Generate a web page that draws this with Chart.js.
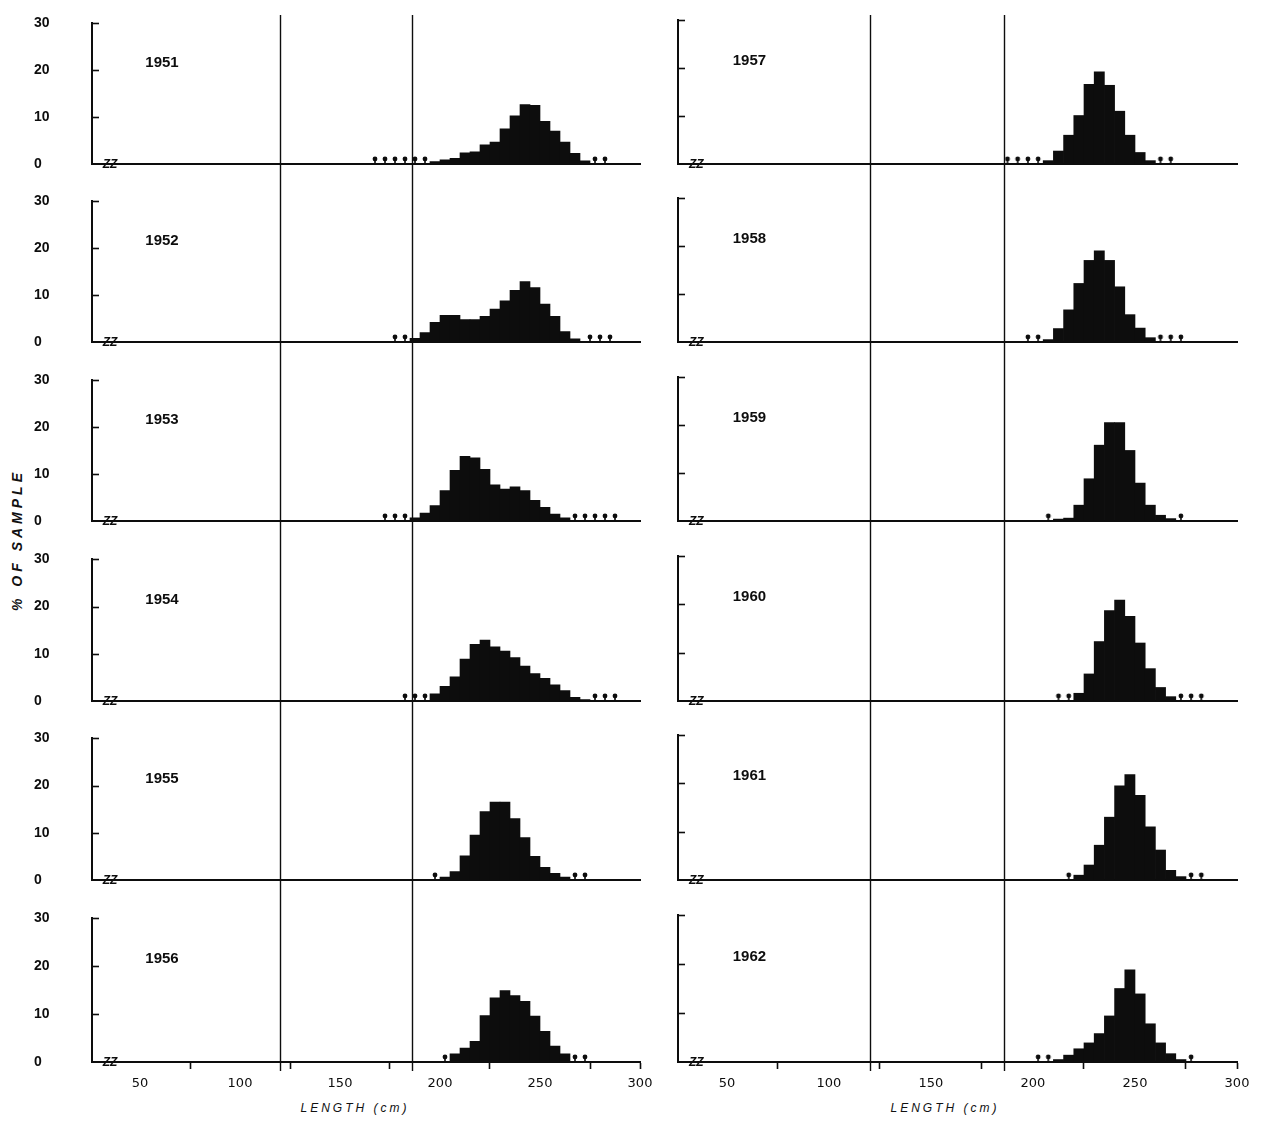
<!DOCTYPE html>
<html>
<head>
<meta charset="utf-8">
<script src="https://cdn.jsdelivr.net/npm/chart.js@4.4.1/dist/chart.umd.min.js"></script>
<style>
html,body{margin:0;padding:0;background:#fff;}
#wrap{position:relative;width:1265px;height:1123px;overflow:hidden;background:#fff;}
#wrap canvas{position:absolute;}
.ytitle{position:absolute;left:17px;top:540px;transform:translate(-50%,-50%) rotate(-90deg);font:italic bold 14px "Liberation Sans",Arial,sans-serif;letter-spacing:4px;white-space:nowrap;color:#111;}
.xtitle{position:absolute;top:1101px;transform:translateX(-50%);font:italic 12px "Liberation Sans",Arial,sans-serif;letter-spacing:3px;white-space:nowrap;color:#111;}
</style>
</head>
<body>
<div id="wrap">
  <div class="ytitle">% OF SAMPLE</div>
  <div class="xtitle" style="left:355px">LENGTH (cm)</div>
  <div class="xtitle" style="left:945px">LENGTH (cm)</div>
</div>
<script>
// ---------------- data ----------------
const years = [1951, 1952, 1953, 1954, 1955, 1956, 1957, 1958, 1959, 1960, 1961, 1962];
const binWidth = 5; // cm
const firstBin = [195, 185, 185, 195, 200, 205, 205, 205, 210, 220, 220, 210];

const pct1951 = [0.5, 0.9, 1.2, 2.4, 2.6, 4.1, 4.7, 7.5, 10.3, 12.7, 12.5, 9.1, 7.0, 4.7, 2.3, 0.7];
const pct1952 = [0.8, 2.0, 4.2, 5.7, 5.7, 4.8, 4.8, 5.5, 7.0, 8.8, 11.0, 12.9, 11.6, 8.1, 5.5, 2.2, 0.7];
const pct1953 = [0.7, 1.7, 3.3, 6.5, 10.8, 13.8, 13.5, 11.0, 7.7, 6.8, 7.3, 6.5, 4.4, 2.9, 1.5, 0.7];
const pct1954 = [1.5, 3.1, 5.1, 8.9, 12.0, 12.9, 11.5, 10.6, 9.2, 7.4, 5.8, 4.8, 3.4, 2.2, 0.8, 0.3];
const pct1955 = [0.6, 1.8, 5.1, 9.5, 14.5, 16.5, 16.5, 13.0, 9.0, 5.0, 2.7, 1.4, 0.6];
const pct1956 = [1.7, 2.9, 4.3, 9.7, 13.4, 14.9, 13.9, 12.7, 9.6, 6.4, 3.3, 1.7];
const pct1957 = [0.7, 2.7, 6.0, 10.1, 16.6, 19.2, 16.4, 11.0, 6.0, 2.4, 0.7];
const pct1958 = [0.5, 2.8, 6.7, 12.2, 17.0, 19.0, 17.0, 11.5, 5.7, 2.9, 0.9];
const pct1959 = [0.4, 0.6, 3.3, 8.8, 15.8, 20.5, 20.5, 14.7, 7.9, 3.3, 1.2, 0.5];
const pct1960 = [1.6, 5.6, 12.3, 18.7, 20.9, 17.5, 12.0, 6.7, 2.8, 0.9];
const pct1961 = [1.0, 3.1, 7.2, 13.0, 19.5, 21.8, 17.5, 11.0, 6.2, 2.0, 0.7];
const pct1962 = [0.5, 1.4, 2.7, 3.9, 5.8, 9.4, 15.0, 18.8, 13.9, 7.8, 3.9, 1.7, 0.5];

// lengths (cm) of the isolated trace records marked on the baseline
const trace1951 = [167.5, 172.5, 177.5, 182.5, 187.5, 192.5, 277.5, 282.5];
const trace1952 = [177.5, 182.5, 275, 280, 285];
const trace1953 = [172.5, 177.5, 182.5, 267.5, 272.5, 277.5, 282.5, 287.5];
const trace1954 = [182.5, 187.5, 192.5, 277.5, 282.5, 287.5];
const trace1955 = [197.5, 267.5, 272.5];
const trace1956 = [202.5, 267.5, 272.5];
const trace1957 = [187.5, 192.5, 197.5, 202.5, 262.5, 267.5];
const trace1958 = [197.5, 202.5, 262.5, 267.5, 272.5];
const trace1959 = [207.5, 272.5];
const trace1960 = [212.5, 217.5, 272.5, 277.5, 282.5];
const trace1961 = [217.5, 277.5, 282.5];
const trace1962 = [202.5, 207.5, 277.5];

const xTickValues = [50, 75, 100, 125, 150, 175, 200, 225, 250, 275, 300];
const yTickValues = [0, 10, 20, 30];
const referenceLengths = [120, 186];   // vertical lines, cm
const xRange = [26, 300];
const yRange = [0, 30];
const breakAt = 35;                     // axis break "ZZ"
const yearLabelPos = [61, 21.5];

const pctByYear = [pct1951, pct1952, pct1953, pct1954, pct1955, pct1956, pct1957, pct1958, pct1959, pct1960, pct1961, pct1962];
const traceByYear = [trace1951, trace1952, trace1953, trace1954, trace1955, trace1956, trace1957, trace1958, trace1959, trace1960, trace1961, trace1962];

// ---------------- layout ----------------
const rowTop = [18, 196, 375, 554, 733, 913];     // pixel of 30 %
const rowBase = [164, 342, 521, 701, 880, 1062];  // pixel of 0 %
const cols = [
  {left: 0,   width: 660, plotLeft: 92,  plotRight: 640, labels: true},
  {left: 640, width: 625, plotLeft: 678, plotRight: 1237, labels: false}
];
const INK = '#0d0d0d';

// trace marker glyph (dot on a short stem, sitting on the baseline)
function makeMarker() {
  const c = document.createElement('canvas');
  c.width = 8; c.height = 16;
  const g = c.getContext('2d');
  g.fillStyle = INK;
  g.beginPath(); g.arc(4, 3, 2.4, 0, Math.PI * 2); g.fill();
  g.fillRect(3.2, 4, 1.6, 4);
  return c;
}
const marker = makeMarker();

const panelPlugin = {
  id: 'panelDecor',
  beforeDatasetsDraw(chart, args, opts) {
    const {ctx, scales: {x}} = chart;
    ctx.save();
    ctx.strokeStyle = INK;
    ctx.lineWidth = 1.4;
    const bottom = opts.last ? chart.chartArea.bottom + 9 : chart.height;
    referenceLengths.forEach(v => {
      const px = Math.round(x.getPixelForValue(v)) + 0.5;
      ctx.beginPath(); ctx.moveTo(px, 0); ctx.lineTo(px, bottom); ctx.stroke();
    });
    ctx.restore();
  },
  afterDraw(chart, args, opts) {
    const {ctx, chartArea, scales: {x, y}} = chart;
    ctx.save();
    // inward ticks on the % axis
    ctx.strokeStyle = INK;
    ctx.lineWidth = 1.6;
    yTickValues.slice(1).forEach(v => {
      const py = Math.round(y.getPixelForValue(v)) + 0.5;
      ctx.beginPath(); ctx.moveTo(chartArea.left, py); ctx.lineTo(chartArea.left + 7, py); ctx.stroke();
    });
    // axis break
    ctx.fillStyle = INK;
    ctx.font = 'italic bold 12px "Liberation Sans", Arial, sans-serif';
    ctx.textAlign = 'center';
    ctx.textBaseline = 'middle';
    ctx.fillText('ZZ', x.getPixelForValue(breakAt), chartArea.bottom + 1);
    // year label
    ctx.font = 'bold 15px "Liberation Sans", Arial, sans-serif';
    ctx.fillText(String(opts.year), x.getPixelForValue(yearLabelPos[0]), y.getPixelForValue(yearLabelPos[1]));
    ctx.restore();
  }
};

const wrap = document.getElementById('wrap');

years.forEach((year, k) => {
  const col = cols[Math.floor(k / 6)];
  const row = k % 6;
  const last = row === 5;
  const top = rowTop[row] - 3;
  const height = last ? 1123 - top : rowTop[row + 1] - rowTop[row];
  const plotH = rowBase[row] - rowTop[row];
  const xAxisH = last ? 45 : 0;
  const padLeft = col.labels ? 34 : 0;
  const yAxisW = col.plotLeft - col.left - padLeft;

  const canvas = document.createElement('canvas');
  canvas.width = col.width; canvas.height = height;
  canvas.style.left = col.left + 'px';
  canvas.style.top = top + 'px';
  canvas.style.width = col.width + 'px';
  canvas.style.height = height + 'px';
  wrap.appendChild(canvas);

  const start = firstBin[k];
  const bars = pctByYear[k].map((v, i) => ({x: start + binWidth * i + binWidth / 2, y: v}));
  const traces = traceByYear[k].map(v => ({x: v, y: 0}));

  new Chart(canvas, {
    type: 'bar',
    data: {
      datasets: [
        {type: 'bar', data: bars, backgroundColor: INK, borderWidth: 0,
         barPercentage: 1, categoryPercentage: 1, order: 2},
        {type: 'scatter', data: traces, pointStyle: marker, pointRadius: 4,
         clip: false, order: 1}
      ]
    },
    options: {
      responsive: false,
      animation: false,
      devicePixelRatio: 1,
      events: [],
      layout: {padding: {top: 3, left: padLeft, right: col.left + col.width - col.plotRight,
               bottom: height - 3 - plotH - xAxisH}},
      plugins: {legend: {display: false}, tooltip: {enabled: false}, panelDecor: {year, last}},
      scales: {
        x: {
          type: 'linear', min: xRange[0], max: xRange[1], offset: false,
          afterBuildTicks: s => { s.ticks = xTickValues.map(v => ({value: v})); },
          afterFit: s => { s.height = xAxisH; },
          border: {display: true, color: INK, width: 2},
          grid: {display: last, offset: false, drawOnChartArea: false, drawTicks: true, tickLength: 7, tickWidth: 1.6,
                 tickColor: c => (c.tick && c.tick.value % 50 === 0 && c.tick.value !== 300) ? 'rgba(0,0,0,0)' : INK},
          ticks: {display: last, padding: 7, color: INK, maxRotation: 0, autoSkip: false,
                  font: {family: '"DejaVu Sans", Arial, sans-serif', size: 13},
                  callback: v => (v % 50 === 0 ? String(v) : '')}
        },
        y: {
          min: yRange[0], max: yRange[1],
          afterBuildTicks: s => { s.ticks = yTickValues.map(v => ({value: v})); },
          afterFit: s => { s.width = yAxisW; },
          border: {display: true, color: INK, width: 2},
          grid: {display: false, drawTicks: false},
          ticks: {display: col.labels, crossAlign: 'far', padding: 0, color: INK,
                  font: {family: '"Liberation Sans", Arial, sans-serif', size: 14, weight: 'bold'}}
        }
      }
    },
    plugins: [panelPlugin]
  });
});
</script>
</body>
</html>
